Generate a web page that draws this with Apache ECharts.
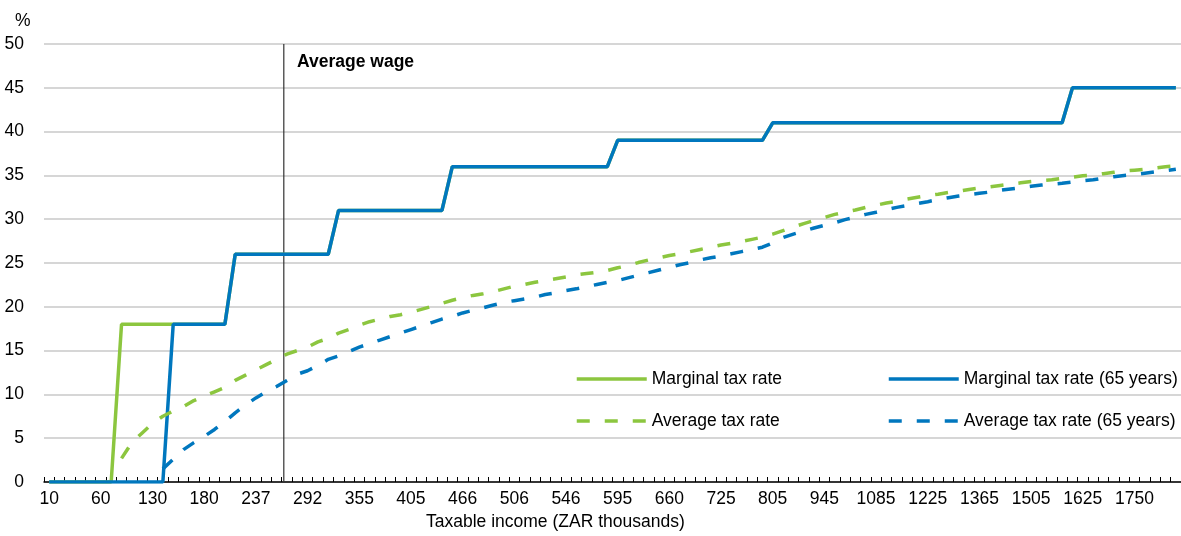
<!DOCTYPE html>
<html>
<head>
<meta charset="utf-8">
<script src="https://cdn.jsdelivr.net/npm/echarts@6/dist/echarts.min.js"></script>
<style>
html,body{margin:0;padding:0;background:#fff;}
#chart{width:1181px;height:536px;}
</style>
</head>
<body>
<div id="chart"></div>
<script>
// Taxable income categories (ZAR thousands); only every 5th is labelled in the reference
var incomeCategories = [
  10, 20, 30, 40, 50,
  60, 74, 88, 102, 116,
  130, 140, 150, 160, 170,
  180, 191, 203, 214, 226,
  237, 248, 259, 270, 281,
  292, 305, 317, 330, 342,
  355, 365, 375, 385, 395,
  405, 417, 429, 442, 454,
  466, 474, 482, 490, 498,
  506, 514, 522, 530, 538,
  546, 556, 566, 575, 585,
  595, 608, 621, 634, 647,
  660, 673, 686, 699, 712,
  725, 741, 757, 773, 789,
  805, 833, 861, 889, 917,
  945, 973, 1001, 1029, 1057,
  1085, 1113, 1141, 1169, 1197,
  1225, 1253, 1281, 1309, 1337,
  1365, 1393, 1421, 1449, 1477,
  1505, 1529, 1553, 1577, 1601,
  1625, 1650, 1675, 1700, 1725,
  1750, 1775, 1800, 1825, 1850
];

var marginalRate = [
  0, 0, 0, 0, 0, 0, 0,
  18, 18, 18, 18, 18, 18, 18, 18, 18, 18, 18,
  26, 26, 26, 26, 26, 26, 26, 26, 26, 26,
  31, 31, 31, 31, 31, 31, 31, 31, 31, 31, 31,
  36, 36, 36, 36, 36, 36, 36, 36, 36, 36, 36, 36, 36, 36, 36, 36,
  39, 39, 39, 39, 39, 39, 39, 39, 39, 39, 39, 39, 39, 39, 39,
  41, 41, 41, 41, 41, 41, 41, 41, 41, 41, 41, 41, 41, 41, 41, 41, 41, 41, 41, 41, 41, 41, 41, 41, 41, 41, 41, 41, 41,
  45, 45, 45, 45, 45, 45, 45, 45, 45, 45, 45
];

var marginalRate65 = [
  0, 0, 0, 0, 0, 0, 0, 0, 0, 0, 0, 0,
  18, 18, 18, 18, 18, 18,
  26, 26, 26, 26, 26, 26, 26, 26, 26, 26,
  31, 31, 31, 31, 31, 31, 31, 31, 31, 31, 31,
  36, 36, 36, 36, 36, 36, 36, 36, 36, 36, 36, 36, 36, 36, 36, 36,
  39, 39, 39, 39, 39, 39, 39, 39, 39, 39, 39, 39, 39, 39, 39,
  41, 41, 41, 41, 41, 41, 41, 41, 41, 41, 41, 41, 41, 41, 41, 41, 41, 41, 41, 41, 41, 41, 41, 41, 41, 41, 41, 41, 41,
  45, 45, 45, 45, 45, 45, 45, 45, 45, 45, 45
];

var averageRate = [
  null, null, null, null, null, null, null,
  2.7, 4.5, 5.6,
  6.7, 7.5, 8.1, 8.6, 9.3,
  9.8, 10.3, 10.8, 11.6, 12.2,
  12.8, 13.4, 14.0, 14.6, 15.0,
  15.4, 16.0, 16.4, 17.0, 17.4,
  17.9, 18.3, 18.6, 18.9, 19.1,
  19.4, 19.7, 20.05, 20.4, 20.75,
  21.05, 21.3, 21.5, 21.75, 22.05,
  22.35, 22.55, 22.8, 23.0, 23.2,
  23.4, 23.65, 23.8, 23.95, 24.15,
  24.45, 24.7, 25.05, 25.35, 25.6,
  25.85, 26.05, 26.3, 26.55, 26.8,
  27.05, 27.25, 27.45, 27.7, 27.95,
  28.3, 28.7, 29.1, 29.5, 29.85,
  30.2, 30.55, 30.8, 31.05, 31.35,
  31.6, 31.85, 32.05, 32.3, 32.5,
  32.7, 32.85, 33.05, 33.2, 33.4,
  33.55, 33.7, 33.85, 34.0, 34.15,
  34.3, 34.4, 34.5, 34.65, 34.8,
  34.95, 35.05, 35.2, 35.35, 35.5,
  35.6, 35.7, 35.85, 36.0, 36.1
];

var averageRate65 = [
  null, null, null, null, null, null, null, null, null, null, null,
  1.5, 2.6, 3.7, 4.5,
  5.2, 6.0, 6.9, 7.9, 8.8,
  9.6, 10.3, 10.9, 11.6, 12.3,
  12.7, 13.3, 14.0, 14.4, 14.9,
  15.4, 15.8, 16.2, 16.6, 17.0,
  17.4, 17.8, 18.2, 18.6, 18.9,
  19.3, 19.6, 19.9, 20.2, 20.5,
  20.7, 20.9, 21.1, 21.4, 21.6,
  21.85, 22.05, 22.3, 22.55, 22.8,
  23.0, 23.3, 23.6, 23.9, 24.2,
  24.5, 24.8, 25.05, 25.35, 25.6,
  25.8, 26.05, 26.3, 26.55, 26.8,
  27.3, 27.9, 28.3, 28.65, 29.0,
  29.3, 29.6, 29.95, 30.25, 30.55,
  30.8, 31.1, 31.35, 31.55, 31.8,
  32.0, 32.25, 32.45, 32.65, 32.8,
  32.95, 33.1, 33.3, 33.45, 33.6,
  33.75, 33.9, 34.0, 34.1, 34.25,
  34.4, 34.5, 34.7, 34.85, 35.0,
  35.1, 35.25, 35.4, 35.55, 35.7
];

// Average wage position on the category scale (between 259 and 270 thousand)
var averageWagePosition = [22.7];
var yTicks = { min: 0, max: 50, interval: 5 };

var FONT = '"Liberation Sans", Arial, sans-serif';
var FS = 17.5;
var GREEN = '#8CC63F';
var BLUE = '#0077BE';
var DASH = [13, 15];

var chart = echarts.init(document.getElementById('chart'), null, { renderer: 'canvas' });

var legendCommon = {
  top: 362, orient: 'vertical', selectedMode: false,
  itemWidth: 70, itemHeight: 14, itemGap: 18,
  itemStyle: { opacity: 0 },
  lineStyle: { width: 3.5 },
  textStyle: { fontSize: FS, fontFamily: FONT, color: '#000', lineHeight: 24 }
};

var option = {
  animation: false,
  backgroundColor: '#ffffff',
  grid: { left: 44, right: 0, top: 44, bottom: 54, containLabel: false },
  xAxis: [
    {
      type: 'category',
      data: incomeCategories,
      boundaryGap: true,
      axisLine: { show: true, lineStyle: { color: '#000', width: 1.5 } },
      axisTick: { show: true, inside: true, length: 5, interval: 0, lineStyle: { color: '#000', width: 1 } },
      axisLabel: {
        interval: function (idx) { return idx % 5 === 0 && idx <= 105; },
        color: '#000', fontSize: FS, fontFamily: FONT, margin: 8
      },
      splitLine: { show: false }
    },
    {
      type: 'value',
      min: -0.5,
      max: incomeCategories.length - 0.5,
      show: false
    }
  ],
  yAxis: {
    type: 'value',
    min: yTicks.min, max: yTicks.max, interval: yTicks.interval,
    axisLine: { show: false },
    axisTick: { show: false },
    axisLabel: { color: '#000', fontSize: FS, fontFamily: FONT, margin: 20 },
    splitLine: { show: true, lineStyle: { color: '#c8c8c8', width: 1.5 } }
  },
  legend: [
    Object.assign({}, legendCommon, { left: 570, data: ['Marginal tax rate', 'Average tax rate'] }),
    Object.assign({}, legendCommon, { left: 882, data: ['Marginal tax rate (65 years)', 'Average tax rate (65 years)'] })
  ],
  graphic: [
    { type: 'text', left: 15, top: 12, style: { text: '%', fontSize: FS, fontFamily: FONT, fill: '#000' } },
    { type: 'text', left: 297, top: 53, style: { text: 'Average wage', fontSize: FS, fontWeight: 'bold', fontFamily: FONT, fill: '#000' } },
    { type: 'text', left: 426, top: 513, style: { text: 'Taxable income (ZAR thousands)', fontSize: FS, fontFamily: FONT, fill: '#000' } }
  ],
  series: [
    {
      name: 'avgwage', type: 'line', xAxisIndex: 1, symbol: 'none', silent: true,
      data: [[averageWagePosition[0], yTicks.min], [averageWagePosition[0], yTicks.max]],
      lineStyle: { color: '#333', width: 1.2 }, z: 1
    },
    {
      name: 'Marginal tax rate', type: 'line', data: marginalRate, symbol: 'none',
      lineStyle: { color: GREEN, width: 3.5 }, itemStyle: { color: GREEN }, z: 2
    },
    {
      name: 'Marginal tax rate (65 years)', type: 'line', data: marginalRate65, symbol: 'none',
      lineStyle: { color: BLUE, width: 3.5 }, itemStyle: { color: BLUE }, z: 3
    },
    {
      name: 'Average tax rate', type: 'line', data: averageRate, symbol: 'none',
      lineStyle: { color: GREEN, width: 3.5, type: DASH }, itemStyle: { color: GREEN }, z: 4
    },
    {
      name: 'Average tax rate (65 years)', type: 'line', data: averageRate65, symbol: 'none',
      lineStyle: { color: BLUE, width: 3.5, type: DASH }, itemStyle: { color: BLUE }, z: 5
    }
  ]
};
chart.setOption(option);
</script>
</body>
</html>
